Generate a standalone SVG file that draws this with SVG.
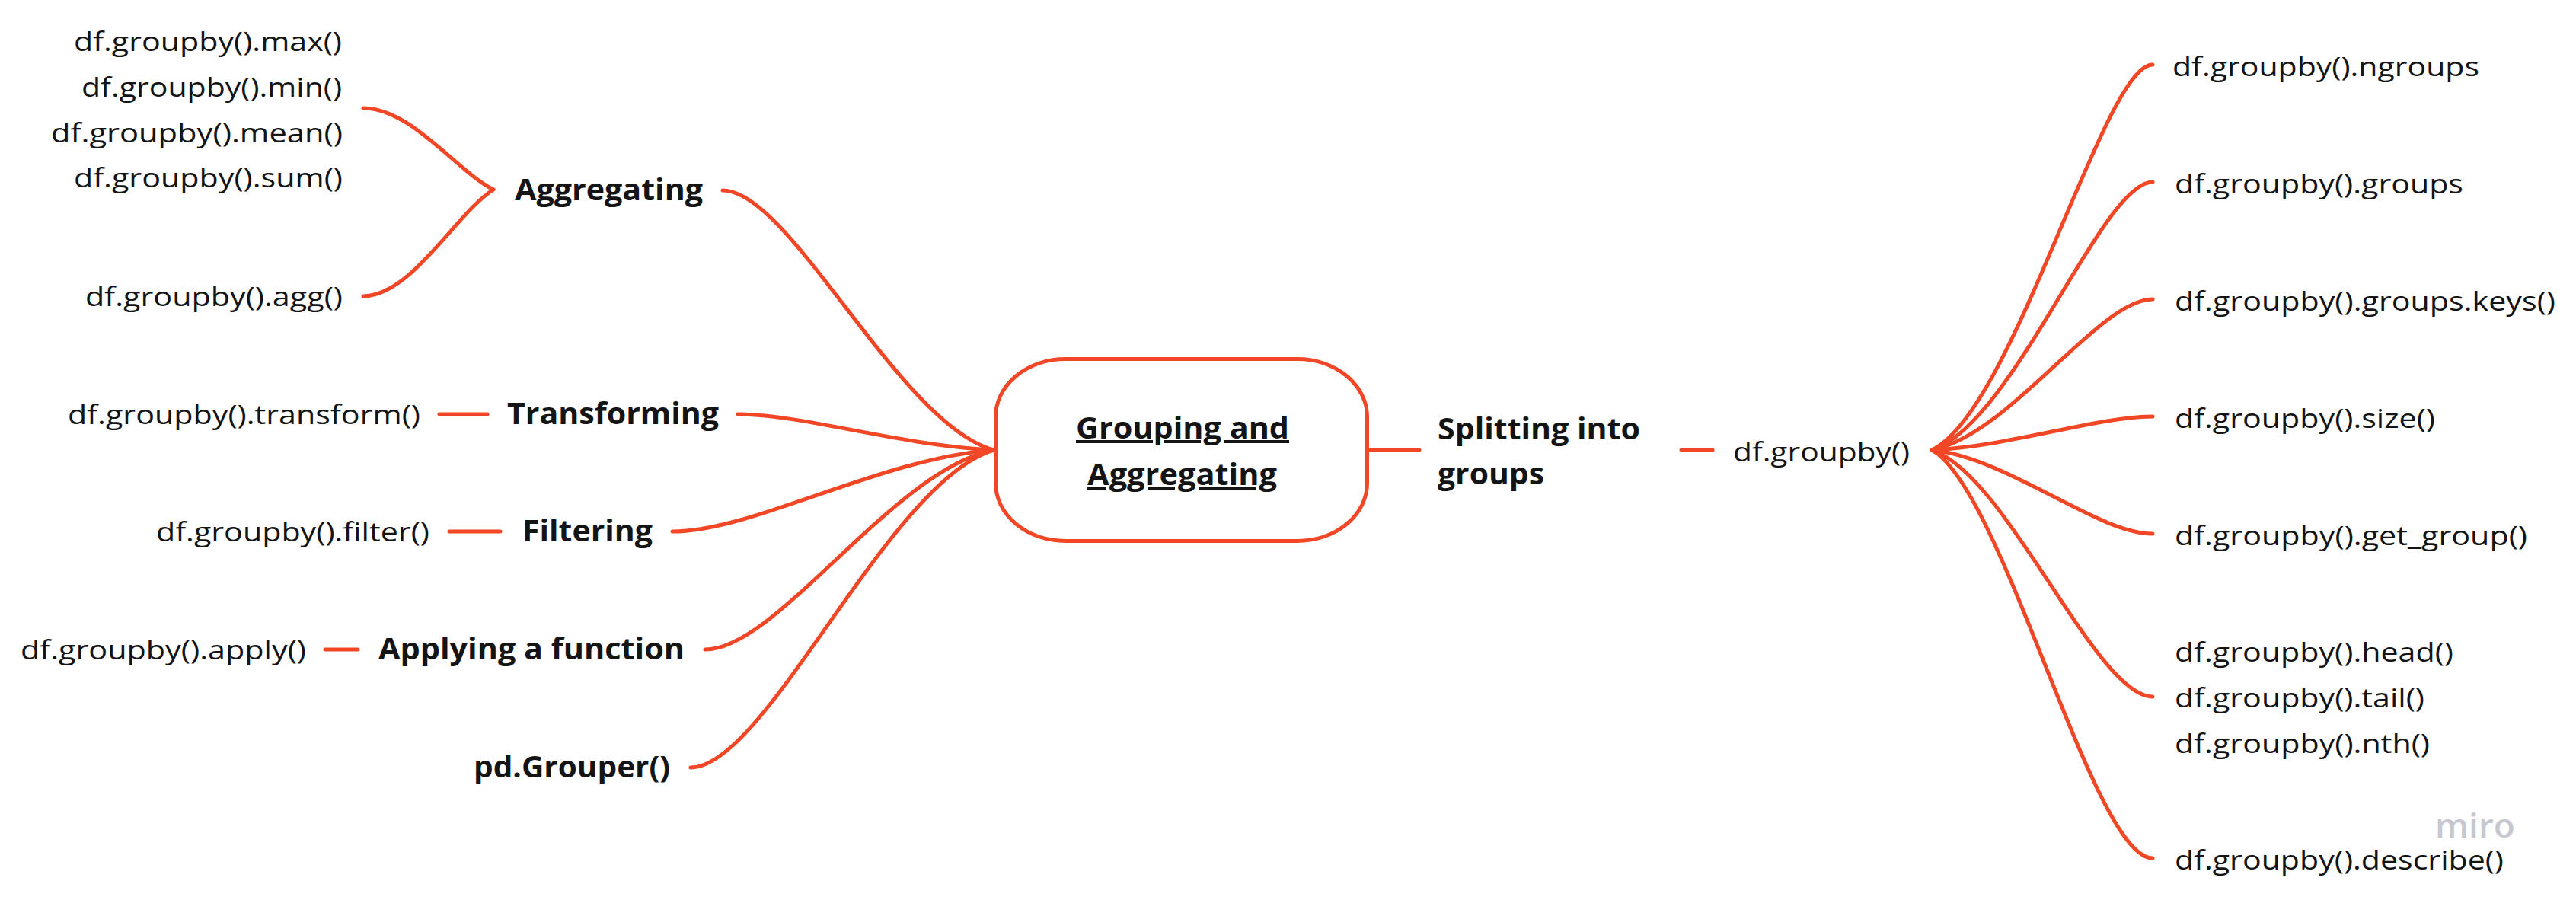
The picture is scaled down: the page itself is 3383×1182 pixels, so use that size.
<svg xmlns="http://www.w3.org/2000/svg" width="3383" height="1182" viewBox="0 0 3383 1182">
<style>
  .c { fill: none; stroke: #F24726; stroke-width: 5; stroke-linecap: round; }
  .r { font-family: "Open Sans", "Liberation Sans", sans-serif; font-size: 35px; fill: #141414; }
  .b { font-family: "Open Sans", "Liberation Sans", sans-serif; font-size: 40px; font-weight: 700; fill: #141414; }
  .u { text-decoration: underline; }
  .w { font-family: "Open Sans", "Liberation Sans", sans-serif; font-size: 44px; font-weight: 600; fill: #c6c7cf; }
</style>
<rect width="3383" height="1182" fill="#ffffff"/>
<g id="connectors">
  <!-- left branches -->
  <path class="c" d="M1305 591 C1180.4 556.9 1038 250 949 250"/>
  <path class="c" d="M1305 591 C1187.4 586.3 1053 544 969 544"/>
  <path class="c" d="M1305 591 C1157.3 601.7 988.5 698 883 698"/>
  <path class="c" d="M1305 591 C1172.35 617.2 1020.75 853 926 853"/>
  <path class="c" d="M1305 591 C1165.7 632.7 1006.5 1008 907 1008"/>
  <!-- aggregating bracket -->
  <path class="c" d="M648 249 C600 225 540 142 477 142"/>
  <path class="c" d="M648 249 C600 279 540 389 477 389"/>
  <!-- short dashes -->
  <path class="c" d="M577 544 L640 544"/>
  <path class="c" d="M590 698 L657 698"/>
  <path class="c" d="M427 853 L470 853"/>
  <path class="c" d="M1798 591 L1864 591"/>
  <path class="c" d="M2208 591 L2249 591"/>
  <!-- right branches -->
  <path class="c" d="M2537 591 C2645 540 2762 85 2827 85"/>
  <path class="c" d="M2537 591 C2645 556 2760 239 2827 239"/>
  <path class="c" d="M2537 591 C2640 571 2756 393 2827 393"/>
  <path class="c" d="M2537 591 C2638.5 586.6 2754.5 547 2827 547"/>
  <path class="c" d="M2537 591 C2638.5 602 2754.5 701 2827 701"/>
  <path class="c" d="M2537 591 C2636 623 2752 915 2827 915"/>
  <path class="c" d="M2537 591 C2632 644 2748 1127 2827 1127"/>
</g>
<g id="center">
  <rect x="1307.5" y="471.5" width="488" height="239" rx="92" ry="76" fill="#ffffff" stroke="#F24726" stroke-width="5"/>
  <text class="b u" x="1413" y="576" textLength="280" lengthAdjust="spacingAndGlyphs">Grouping and</text>
  <text class="b u" x="1428" y="637" textLength="249" lengthAdjust="spacingAndGlyphs">Aggregating</text>
</g>
<g id="aggregating">
  <text class="b" x="676" y="263" textLength="247" lengthAdjust="spacingAndGlyphs">Aggregating</text>
</g>
<g id="agg-max"><text class="r" x="97" y="67" textLength="352" lengthAdjust="spacingAndGlyphs">df.groupby().max()</text></g>
<g id="agg-min"><text class="r" x="107" y="127" textLength="342" lengthAdjust="spacingAndGlyphs">df.groupby().min()</text></g>
<g id="agg-mean"><text class="r" x="67" y="187" textLength="383" lengthAdjust="spacingAndGlyphs">df.groupby().mean()</text></g>
<g id="agg-sum"><text class="r" x="97" y="246" textLength="353" lengthAdjust="spacingAndGlyphs">df.groupby().sum()</text></g>
<g id="agg-agg"><text class="r" x="112" y="402" textLength="338" lengthAdjust="spacingAndGlyphs">df.groupby().agg()</text></g>
<g id="transforming"><text class="b" x="666" y="557" textLength="278" lengthAdjust="spacingAndGlyphs">Transforming</text></g>
<g id="transform"><text class="r" x="89" y="557" textLength="463" lengthAdjust="spacingAndGlyphs">df.groupby().transform()</text></g>
<g id="filtering"><text class="b" x="686" y="711" textLength="171" lengthAdjust="spacingAndGlyphs">Filtering</text></g>
<g id="filter"><text class="r" x="205" y="711" textLength="359" lengthAdjust="spacingAndGlyphs">df.groupby().filter()</text></g>
<g id="applying"><text class="b" x="497" y="866" textLength="402" lengthAdjust="spacingAndGlyphs">Applying a function</text></g>
<g id="apply"><text class="r" x="27" y="866" textLength="375" lengthAdjust="spacingAndGlyphs">df.groupby().apply()</text></g>
<g id="grouper"><text class="b" x="622" y="1021" textLength="258" lengthAdjust="spacingAndGlyphs">pd.Grouper()</text></g>
<g id="splitting">
  <text class="b" x="1888" y="577" textLength="266" lengthAdjust="spacingAndGlyphs">Splitting into</text>
  <text class="b" x="1888" y="636" textLength="140" lengthAdjust="spacingAndGlyphs">groups</text>
</g>
<g id="groupby"><text class="r" x="2276" y="606" textLength="232" lengthAdjust="spacingAndGlyphs">df.groupby()</text></g>
<g id="ngroups"><text class="r" x="2853" y="100" textLength="403" lengthAdjust="spacingAndGlyphs">df.groupby().ngroups</text></g>
<g id="groups"><text class="r" x="2856" y="254" textLength="379" lengthAdjust="spacingAndGlyphs">df.groupby().groups</text></g>
<g id="keys"><text class="r" x="2856" y="408" textLength="500" lengthAdjust="spacingAndGlyphs">df.groupby().groups.keys()</text></g>
<g id="size"><text class="r" x="2856" y="562" textLength="342" lengthAdjust="spacingAndGlyphs">df.groupby().size()</text></g>
<g id="get-group"><text class="r" x="2856" y="716" textLength="463" lengthAdjust="spacingAndGlyphs">df.groupby().get_group()</text></g>
<g id="head-tail-nth">
  <text class="r" x="2856" y="869" textLength="366" lengthAdjust="spacingAndGlyphs">df.groupby().head()</text>
  <text class="r" x="2856" y="929" textLength="328" lengthAdjust="spacingAndGlyphs">df.groupby().tail()</text>
  <text class="r" x="2856" y="989" textLength="335" lengthAdjust="spacingAndGlyphs">df.groupby().nth()</text>
</g>
<g id="describe"><text class="r" x="2856" y="1142" textLength="432" lengthAdjust="spacingAndGlyphs">df.groupby().describe()</text></g>
<text class="w" x="3198" y="1100" textLength="105" lengthAdjust="spacingAndGlyphs">miro</text>
</svg>
